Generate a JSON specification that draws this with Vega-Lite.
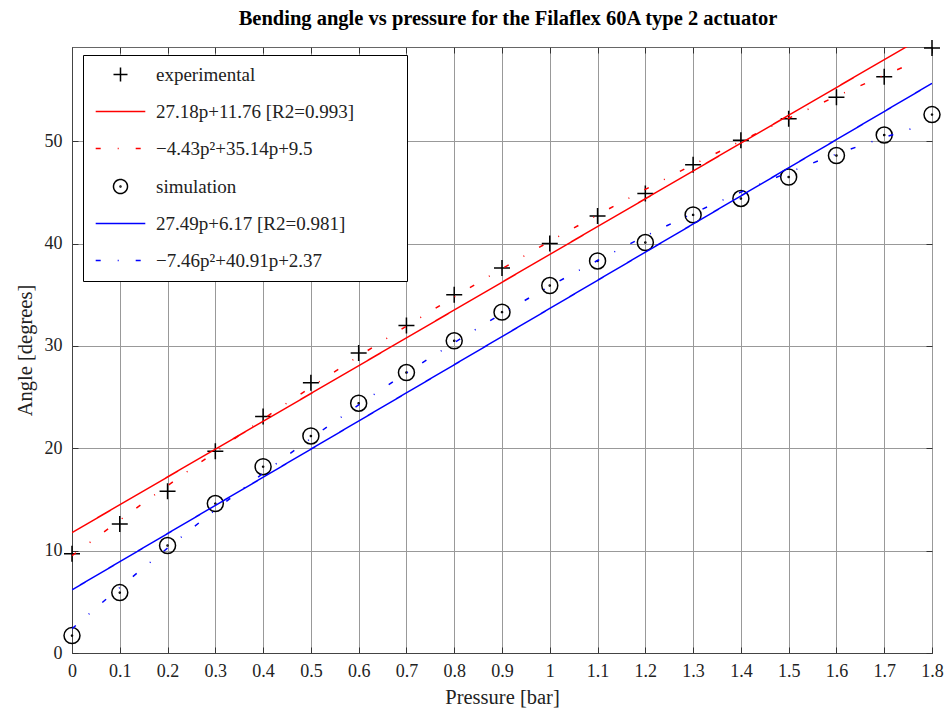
{
  "$schema": "https://vega.github.io/schema/vega-lite/v6.json",
  "width": 860,
  "height": 606,
  "autosize": {"type": "none"},
  "padding": {"left": 72, "top": 47, "right": 16, "bottom": 58},
  "background": "white",
  "title": {"text": "Bending angle vs pressure for the Filaflex 60A type 2 actuator", "font": "Liberation Serif", "fontSize": 20.5, "fontWeight": "bold", "color": "#000", "offset": 8, "dx": 6, "anchor": "middle"},
  "config": {
    "view": {"stroke": "#666", "strokeWidth": 1},
    "font": "Liberation Serif",
    "axis": {"labelFont": "Liberation Serif", "labelFontSize": 18, "labelColor": "#222", "labelFlush": false, "titleFont": "Liberation Serif", "titleFontSize": 20.5, "titleFontWeight": "normal", "titleColor": "#222", "gridColor": "#999", "gridOpacity": 1, "gridWidth": 1, "tickColor": "#333", "domainColor": "#444"},
    "legend": {"orient": "none", "legendX": 11, "legendY": 8, "strokeColor": "#000", "fillColor": "#fff", "padding": 10, "symbolSize": 256, "symbolStrokeWidth": 1.5, "symbolOffset": 18, "labelFont": "Liberation Serif", "labelFontSize": 19, "labelColor": "#222", "rowPadding": 17, "labelOffset": 26, "labelLimit": 0}
  },
  "data": {"values": [
    {"series": "experimental", "p": 0, "angle": 9.7},
    {"series": "experimental", "p": 0.1, "angle": 12.6},
    {"series": "experimental", "p": 0.2, "angle": 15.8},
    {"series": "experimental", "p": 0.3, "angle": 19.7},
    {"series": "experimental", "p": 0.4, "angle": 23.1},
    {"series": "experimental", "p": 0.5, "angle": 26.4},
    {"series": "experimental", "p": 0.6, "angle": 29.3},
    {"series": "experimental", "p": 0.7, "angle": 32.0},
    {"series": "experimental", "p": 0.8, "angle": 35.0},
    {"series": "experimental", "p": 0.9, "angle": 37.6},
    {"series": "experimental", "p": 1.0, "angle": 40.0},
    {"series": "experimental", "p": 1.1, "angle": 42.7},
    {"series": "experimental", "p": 1.2, "angle": 44.9},
    {"series": "experimental", "p": 1.3, "angle": 47.7},
    {"series": "experimental", "p": 1.4, "angle": 50.1},
    {"series": "experimental", "p": 1.5, "angle": 52.2},
    {"series": "experimental", "p": 1.6, "angle": 54.3},
    {"series": "experimental", "p": 1.7, "angle": 56.3},
    {"series": "experimental", "p": 1.8, "angle": 59.1},
    {"series": "simulation", "p": 0, "angle": 1.7},
    {"series": "simulation", "p": 0.1, "angle": 5.9},
    {"series": "simulation", "p": 0.2, "angle": 10.5},
    {"series": "simulation", "p": 0.3, "angle": 14.6},
    {"series": "simulation", "p": 0.4, "angle": 18.2},
    {"series": "simulation", "p": 0.5, "angle": 21.2},
    {"series": "simulation", "p": 0.6, "angle": 24.4},
    {"series": "simulation", "p": 0.7, "angle": 27.4},
    {"series": "simulation", "p": 0.8, "angle": 30.5},
    {"series": "simulation", "p": 0.9, "angle": 33.3},
    {"series": "simulation", "p": 1.0, "angle": 35.9},
    {"series": "simulation", "p": 1.1, "angle": 38.3},
    {"series": "simulation", "p": 1.2, "angle": 40.1},
    {"series": "simulation", "p": 1.3, "angle": 42.8},
    {"series": "simulation", "p": 1.4, "angle": 44.4},
    {"series": "simulation", "p": 1.5, "angle": 46.5},
    {"series": "simulation", "p": 1.6, "angle": 48.6},
    {"series": "simulation", "p": 1.7, "angle": 50.6},
    {"series": "simulation", "p": 1.8, "angle": 52.6},
    {"series": "27.18p+11.76 [R2=0.993]", "p": 0, "angle": 11.76},
    {"series": "27.18p+11.76 [R2=0.993]", "p": 1.8, "angle": 60.68},
    {"series": "27.49p+6.17 [R2=0.981]", "p": 0, "angle": 6.17},
    {"series": "27.49p+6.17 [R2=0.981]", "p": 1.8, "angle": 55.65},
    {"series": "−4.43p²+35.14p+9.5", "p": 0, "angle": 9.5},
    {"series": "−4.43p²+35.14p+9.5", "p": 0.1, "angle": 12.97},
    {"series": "−4.43p²+35.14p+9.5", "p": 0.2, "angle": 16.35},
    {"series": "−4.43p²+35.14p+9.5", "p": 0.3, "angle": 19.64},
    {"series": "−4.43p²+35.14p+9.5", "p": 0.4, "angle": 22.85},
    {"series": "−4.43p²+35.14p+9.5", "p": 0.5, "angle": 25.96},
    {"series": "−4.43p²+35.14p+9.5", "p": 0.6, "angle": 28.99},
    {"series": "−4.43p²+35.14p+9.5", "p": 0.7, "angle": 31.93},
    {"series": "−4.43p²+35.14p+9.5", "p": 0.8, "angle": 34.78},
    {"series": "−4.43p²+35.14p+9.5", "p": 0.9, "angle": 37.54},
    {"series": "−4.43p²+35.14p+9.5", "p": 1.0, "angle": 40.21},
    {"series": "−4.43p²+35.14p+9.5", "p": 1.1, "angle": 42.79},
    {"series": "−4.43p²+35.14p+9.5", "p": 1.2, "angle": 45.29},
    {"series": "−4.43p²+35.14p+9.5", "p": 1.3, "angle": 47.70},
    {"series": "−4.43p²+35.14p+9.5", "p": 1.4, "angle": 50.01},
    {"series": "−4.43p²+35.14p+9.5", "p": 1.5, "angle": 52.24},
    {"series": "−4.43p²+35.14p+9.5", "p": 1.6, "angle": 54.38},
    {"series": "−4.43p²+35.14p+9.5", "p": 1.7, "angle": 56.44},
    {"series": "−4.43p²+35.14p+9.5", "p": 1.76, "angle": 57.63},
    {"series": "−7.46p²+40.91p+2.37", "p": 0, "angle": 2.37},
    {"series": "−7.46p²+40.91p+2.37", "p": 0.1, "angle": 6.39},
    {"series": "−7.46p²+40.91p+2.37", "p": 0.2, "angle": 10.25},
    {"series": "−7.46p²+40.91p+2.37", "p": 0.3, "angle": 13.97},
    {"series": "−7.46p²+40.91p+2.37", "p": 0.4, "angle": 17.54},
    {"series": "−7.46p²+40.91p+2.37", "p": 0.5, "angle": 20.96},
    {"series": "−7.46p²+40.91p+2.37", "p": 0.6, "angle": 24.23},
    {"series": "−7.46p²+40.91p+2.37", "p": 0.7, "angle": 27.35},
    {"series": "−7.46p²+40.91p+2.37", "p": 0.8, "angle": 30.32},
    {"series": "−7.46p²+40.91p+2.37", "p": 0.9, "angle": 33.15},
    {"series": "−7.46p²+40.91p+2.37", "p": 1.0, "angle": 35.82},
    {"series": "−7.46p²+40.91p+2.37", "p": 1.1, "angle": 38.34},
    {"series": "−7.46p²+40.91p+2.37", "p": 1.2, "angle": 40.72},
    {"series": "−7.46p²+40.91p+2.37", "p": 1.3, "angle": 42.95},
    {"series": "−7.46p²+40.91p+2.37", "p": 1.4, "angle": 45.02},
    {"series": "−7.46p²+40.91p+2.37", "p": 1.5, "angle": 46.95},
    {"series": "−7.46p²+40.91p+2.37", "p": 1.6, "angle": 48.73},
    {"series": "−7.46p²+40.91p+2.37", "p": 1.7, "angle": 50.36},
    {"series": "−7.46p²+40.91p+2.37", "p": 1.76, "angle": 51.26}
  ]},
  "resolve": {"axis": {"x": "independent", "y": "independent"}},
  "layer": [
    {
      "transform": [{"filter": {"field": "series", "oneOf": ["experimental", "simulation"]}}],
      "mark": {"type": "point", "filled": false, "size": 334, "strokeWidth": 1.5, "opacity": 1},
      "encoding": {
        "x": {"field": "p", "type": "quantitative", "scale": {"domain": [0, 1.8], "nice": false, "zero": false},
          "axis": {"title": "Pressure [bar]", "values": [0, 0.1, 0.2, 0.3, 0.4, 0.5, 0.6, 0.7, 0.8, 0.9, 1, 1.1, 1.2, 1.3, 1.4, 1.5, 1.6, 1.7, 1.8], "format": "~g", "grid": true, "tickSize": -6, "labelPadding": 15, "titlePadding": 7, "labelFlush": false}},
        "y": {"field": "angle", "type": "quantitative", "scale": {"domain": [0, 59.2], "nice": false},
          "axis": {"title": "Angle [degrees]", "values": [0, 10, 20, 30, 40, 50], "grid": true, "tickSize": -6, "labelPadding": 16, "titlePadding": 9, "labelFlush": false}},
        "color": {"field": "series", "type": "nominal",
          "scale": {"domain": ["experimental", "27.18p+11.76 [R2=0.993]", "−4.43p²+35.14p+9.5", "simulation", "27.49p+6.17 [R2=0.981]", "−7.46p²+40.91p+2.37"],
                    "range": ["#000000", "#ff0000", "#ff0000", "#000000", "#0000ff", "#0000ff"]},
          "legend": {"title": null, "labelExpr": "datum.label + '\u00a0\u00a0\u00a0\u00a0\u00a0\u00a0\u00a0\u00a0\u00a0\u200b'"}},
        "shape": {"field": "series", "type": "nominal",
          "scale": {"domain": ["experimental", "27.18p+11.76 [R2=0.993]", "−4.43p²+35.14p+9.5", "simulation", "27.49p+6.17 [R2=0.981]", "−7.46p²+40.91p+2.37"],
                    "range": ["M-0.875,0H0.875M0,-0.875V0.875", "M-3.1,0H3.1", "M-3.1,0H3.1", "M0.875,0A0.875,0.875 0 1,1 -0.875,0A0.875,0.875 0 1,1 0.875,0Z M0.06,0A0.06,0.06 0 1,1 -0.06,0A0.06,0.06 0 1,1 0.06,0Z", "M-3.1,0H3.1", "M-3.1,0H3.1"]},
          "legend": {"title": null, "labelExpr": "datum.label + '\u00a0\u00a0\u00a0\u00a0\u00a0\u00a0\u00a0\u00a0\u00a0\u200b'"}}
      }
    },
    {
      "transform": [{"filter": {"not": {"field": "series", "oneOf": ["experimental", "simulation"]}}}],
      "mark": {"type": "line", "strokeWidth": 1.5, "clip": true, "interpolate": "monotone"},
      "encoding": {
        "x": {"field": "p", "type": "quantitative", "axis": {"orient": "top", "title": null, "labels": false, "grid": false, "domain": false, "tickSize": -6, "values": [0, 0.1, 0.2, 0.3, 0.4, 0.5, 0.6, 0.7, 0.8, 0.9, 1, 1.1, 1.2, 1.3, 1.4, 1.5, 1.6, 1.7, 1.8]}},
        "y": {"field": "angle", "type": "quantitative", "axis": {"orient": "right", "title": null, "labels": false, "grid": false, "domain": false, "tickSize": -6, "values": [0, 10, 20, 30, 40, 50]}},
        "color": {"field": "series", "type": "nominal", "legend": {"title": null, "labelExpr": "datum.label + '\u00a0\u00a0\u00a0\u00a0\u00a0\u00a0\u00a0\u00a0\u00a0\u200b'"}},
        "strokeDash": {"field": "series", "type": "nominal",
          "scale": {"domain": ["experimental", "27.18p+11.76 [R2=0.993]", "−4.43p²+35.14p+9.5", "simulation", "27.49p+6.17 [R2=0.981]", "−7.46p²+40.91p+2.37"],
                    "range": [[1, 0], [1, 0], [5, 17, 1, 17], [1, 0], [1, 0], [5, 17, 1, 17]]},
          "legend": {"title": null, "labelExpr": "datum.label + '\u00a0\u00a0\u00a0\u00a0\u00a0\u00a0\u00a0\u00a0\u00a0\u200b'"}}
      }
    }
  ]
}
